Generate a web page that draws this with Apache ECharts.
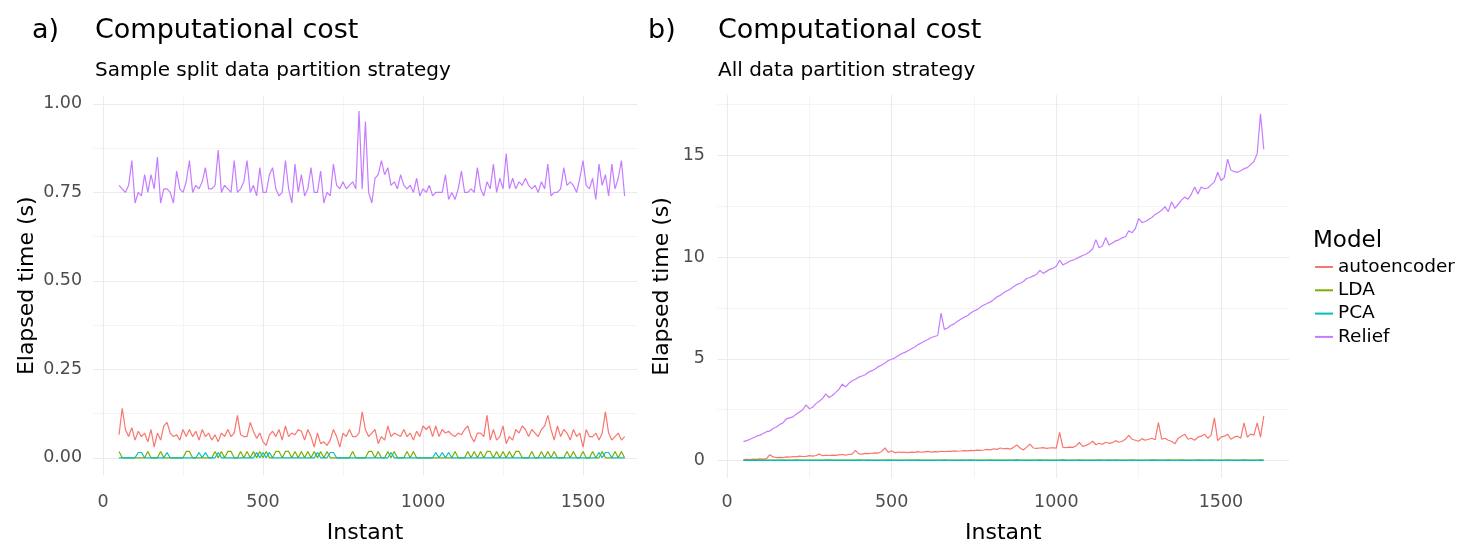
<!DOCTYPE html>
<html><head><meta charset="utf-8">
<script src="https://cdn.jsdelivr.net/npm/echarts@6/dist/echarts.min.js"></script>
<style>html,body{margin:0;padding:0;background:#fff}#c{width:1468px;height:549px}</style>
</head><body><div id="c"></div>
<script>
// ---------- DATA ----------
const instants = [
50,60,70,80,90,100,110,120,130,140,
150,160,170,180,190,200,210,220,230,240,
250,260,270,280,290,300,310,320,330,340,
350,360,370,380,390,400,410,420,430,440,
450,460,470,480,490,500,510,520,530,540,
550,560,570,580,590,600,610,620,630,640,
650,660,670,680,690,700,710,720,730,740,
750,760,770,780,790,800,810,820,830,840,
850,860,870,880,890,900,910,920,930,940,
950,960,970,980,990,1000,1010,1020,1030,1040,
1050,1060,1070,1080,1090,1100,1110,1120,1130,1140,
1150,1160,1170,1180,1190,1200,1210,1220,1230,1240,
1250,1260,1270,1280,1290,1300,1310,1320,1330,1340,
1350,1360,1370,1380,1390,1400,1410,1420,1430,1440,
1450,1460,1470,1480,1490,1500,1510,1520,1530,1540,
1550,1560,1570,1580,1590,1600,1610,1620,1630];

const modelNames = ['autoencoder','LDA','PCA','Relief'];

// Panel a) Sample split data partition strategy
const reliefA = [
0.77,0.76,0.75,0.77,0.84,0.72,0.75,0.74,0.80,0.75,
0.80,0.76,0.85,0.72,0.76,0.76,0.75,0.72,0.81,0.76,
0.75,0.78,0.84,0.75,0.77,0.76,0.78,0.82,0.76,0.76,
0.77,0.87,0.75,0.77,0.76,0.75,0.84,0.75,0.76,0.78,
0.84,0.75,0.77,0.74,0.82,0.75,0.75,0.80,0.82,0.76,
0.74,0.75,0.84,0.76,0.72,0.83,0.75,0.80,0.74,0.76,
0.82,0.75,0.75,0.81,0.72,0.75,0.74,0.83,0.77,0.76,
0.78,0.76,0.77,0.78,0.76,0.98,0.76,0.95,0.75,0.72,
0.79,0.80,0.84,0.80,0.82,0.77,0.78,0.76,0.80,0.77,
0.76,0.77,0.75,0.79,0.74,0.76,0.75,0.77,0.74,0.75,
0.75,0.75,0.80,0.73,0.75,0.73,0.76,0.81,0.75,0.75,
0.76,0.75,0.82,0.76,0.74,0.78,0.76,0.83,0.75,0.79,
0.76,0.86,0.76,0.79,0.76,0.78,0.77,0.79,0.77,0.76,
0.77,0.75,0.78,0.76,0.83,0.74,0.75,0.75,0.76,0.82,
0.77,0.78,0.77,0.75,0.79,0.84,0.77,0.76,0.79,0.73,
0.83,0.77,0.80,0.74,0.83,0.76,0.79,0.84,0.74];

const autoencoderA = [
0.065,0.14,0.08,0.06,0.085,0.05,0.075,0.06,0.07,0.045,
0.08,0.03,0.07,0.05,0.09,0.10,0.07,0.06,0.065,0.05,
0.08,0.06,0.08,0.06,0.075,0.05,0.08,0.06,0.07,0.05,
0.065,0.045,0.07,0.06,0.08,0.06,0.07,0.12,0.065,0.06,
0.06,0.10,0.075,0.055,0.07,0.045,0.035,0.065,0.075,0.06,
0.08,0.05,0.09,0.06,0.07,0.065,0.08,0.075,0.05,0.08,
0.06,0.03,0.07,0.04,0.045,0.035,0.05,0.08,0.06,0.03,
0.07,0.06,0.08,0.06,0.06,0.07,0.13,0.08,0.06,0.07,
0.08,0.04,0.06,0.05,0.09,0.06,0.07,0.065,0.06,0.08,
0.06,0.07,0.05,0.075,0.06,0.09,0.08,0.09,0.06,0.09,
0.06,0.08,0.07,0.075,0.065,0.06,0.07,0.065,0.08,0.09,
0.06,0.045,0.07,0.07,0.06,0.12,0.05,0.08,0.05,0.06,
0.09,0.04,0.06,0.05,0.08,0.07,0.09,0.08,0.06,0.08,
0.07,0.06,0.08,0.09,0.12,0.08,0.05,0.09,0.06,0.08,
0.07,0.05,0.08,0.06,0.07,0.03,0.08,0.06,0.06,0.07,
0.05,0.07,0.13,0.07,0.05,0.06,0.07,0.05,0.06];

const ldaA = [
0.018,0,0,0,0,0,0,0,0,0.018,
0,0,0,0.018,0,0,0,0,0,0,
0,0.018,0.018,0,0,0,0,0,0,0,
0.018,0,0.018,0,0.018,0.018,0,0,0.018,0,
0.018,0,0.018,0,0.018,0,0.018,0,0,0.018,
0.018,0,0.018,0.018,0,0.018,0,0.018,0,0.018,
0,0.018,0,0.018,0,0.018,0,0,0,0,
0,0,0,0.018,0,0,0,0,0.018,0.018,
0,0.018,0,0,0.018,0,0.018,0,0,0,
0.018,0,0.018,0,0,0,0,0,0,0,
0,0,0,0,0,0.018,0,0,0,0.018,
0,0.018,0,0.018,0,0.018,0.018,0,0.018,0,
0.018,0,0.018,0,0.018,0.018,0,0,0,0.018,
0,0,0.018,0,0.018,0,0.018,0,0,0,
0.018,0,0.018,0,0,0.018,0,0,0.018,0,
0,0.018,0,0,0,0.018,0,0.018,0];

const pcaA = [
0,0,0,0,0,0,0.015,0.015,0,0,
0,0,0,0,0,0.015,0,0,0,0,
0,0,0,0,0,0.015,0,0.015,0,0,
0,0.015,0,0,0,0,0,0,0,0,
0,0,0,0.015,0,0.015,0,0.015,0,0,
0,0,0,0,0,0,0,0,0,0,
0,0,0.015,0,0,0,0.015,0.015,0,0,
0,0,0,0,0,0,0,0,0,0,
0,0,0,0,0,0.015,0,0,0,0,
0,0,0,0,0,0,0,0,0,0.015,
0,0.015,0,0.015,0,0,0,0,0,0,
0,0,0,0,0,0,0,0,0,0,
0,0,0,0,0,0,0,0,0,0,
0,0,0,0,0,0,0,0,0,0,
0,0,0,0,0,0,0,0,0,0,
0.015,0,0.015,0.015,0,0,0,0,0];

// Panel b) All data partition strategy
const reliefB = [
0.93,0.98,1.05,1.12,1.20,1.25,1.33,1.42,1.45,1.58,
1.65,1.78,1.85,2.05,2.10,2.15,2.28,2.39,2.50,2.74,
2.55,2.62,2.80,2.92,3.05,3.28,3.10,3.20,3.35,3.50,
3.76,3.62,3.80,3.92,4.00,4.10,4.16,4.22,4.35,4.42,
4.50,4.62,4.70,4.80,4.92,4.98,5.05,5.15,5.25,5.32,
5.40,5.50,5.58,5.70,5.78,5.88,5.95,6.05,6.10,6.15,
7.25,6.45,6.52,6.65,6.72,6.85,6.95,7.05,7.12,7.25,
7.35,7.42,7.55,7.65,7.72,7.80,7.92,8.05,8.12,8.25,
8.35,8.42,8.55,8.65,8.72,8.80,8.95,9.00,9.08,9.15,
9.35,9.20,9.30,9.40,9.45,9.55,9.85,9.62,9.70,9.80,
9.85,9.92,10.00,10.08,10.14,10.25,10.40,10.86,10.46,10.55,
10.96,10.60,10.70,10.80,10.85,10.95,11.00,11.30,11.20,11.40,
11.90,11.70,11.75,11.85,11.95,12.10,12.20,12.30,12.48,12.24,
12.72,12.40,12.60,12.80,12.95,12.85,13.10,13.45,13.10,13.45,
13.36,13.40,13.55,13.70,14.17,13.77,13.90,14.82,14.28,14.20,
14.17,14.25,14.35,14.40,14.55,14.70,15.10,17.05,15.30];

const autoencoderB = [
0.05,0.06,0.05,0.07,0.06,0.08,0.07,0.10,0.29,0.18,
0.15,0.16,0.15,0.18,0.17,0.20,0.18,0.22,0.20,0.21,
0.24,0.22,0.25,0.32,0.24,0.26,0.25,0.27,0.26,0.28,
0.30,0.27,0.30,0.32,0.50,0.33,0.32,0.35,0.34,0.36,
0.38,0.37,0.45,0.62,0.40,0.48,0.38,0.42,0.40,0.41,
0.39,0.42,0.40,0.44,0.41,0.43,0.45,0.42,0.44,0.43,
0.46,0.44,0.46,0.45,0.48,0.46,0.47,0.49,0.48,0.50,
0.49,0.51,0.50,0.52,0.55,0.53,0.58,0.55,0.62,0.58,
0.60,0.56,0.65,0.77,0.62,0.52,0.66,0.81,0.62,0.60,
0.62,0.64,0.60,0.62,0.63,0.61,1.39,0.65,0.64,0.66,
0.65,0.72,0.89,0.70,0.75,0.82,0.95,0.78,0.85,0.80,
0.90,0.85,0.88,0.98,0.90,0.95,1.05,1.24,1.05,1.00,
0.95,1.08,1.00,1.05,1.10,1.02,1.87,1.05,1.10,1.00,
0.95,0.82,1.10,1.20,1.30,1.05,1.10,1.00,1.15,1.20,
1.30,1.10,1.25,2.10,0.98,1.15,1.20,1.30,1.05,1.15,
1.20,1.10,1.85,1.15,1.30,1.25,1.85,1.15,2.20];

const ldaB = [
0.02,0.03,0.02,0.02,0.04,0.02,0.02,0.03,0.02,0.02,
0.03,0.02,0.02,0.02,0.03,0.02,0.04,0.02,0.02,0.03,
0.02,0.02,0.03,0.02,0.02,0.02,0.04,0.02,0.03,0.02,
0.02,0.03,0.02,0.02,0.02,0.04,0.02,0.02,0.03,0.02,
0.02,0.02,0.03,0.02,0.04,0.02,0.02,0.02,0.03,0.02,
0.03,0.02,0.02,0.04,0.02,0.02,0.03,0.02,0.02,0.02,
0.02,0.04,0.02,0.03,0.02,0.02,0.02,0.03,0.02,0.04,
0.02,0.02,0.03,0.02,0.02,0.04,0.02,0.02,0.03,0.02,
0.02,0.03,0.02,0.04,0.02,0.02,0.03,0.02,0.02,0.02,
0.04,0.02,0.02,0.03,0.02,0.02,0.02,0.04,0.02,0.03,
0.02,0.02,0.04,0.02,0.03,0.02,0.02,0.02,0.04,0.02,
0.03,0.02,0.02,0.04,0.02,0.02,0.03,0.02,0.04,0.02,
0.02,0.03,0.02,0.02,0.04,0.02,0.03,0.02,0.02,0.04,
0.02,0.02,0.03,0.04,0.02,0.02,0.03,0.02,0.04,0.02,
0.03,0.02,0.04,0.02,0.02,0.03,0.02,0.04,0.02,0.02,
0.03,0.02,0.04,0.02,0.03,0.02,0.02,0.04,0.02];

const pcaB = [
0.01,0.01,0.01,0.01,0.01,0.01,0.01,0.01,0.01,0.01,
0.01,0.01,0.02,0.01,0.01,0.01,0.01,0.01,0.01,0.01,
0.01,0.01,0.01,0.01,0.01,0.02,0.01,0.01,0.01,0.01,
0.01,0.01,0.01,0.01,0.01,0.01,0.01,0.01,0.02,0.01,
0.01,0.01,0.01,0.01,0.01,0.01,0.01,0.01,0.01,0.01,
0.01,0.02,0.01,0.01,0.01,0.01,0.01,0.01,0.01,0.01,
0.01,0.01,0.01,0.01,0.01,0.01,0.02,0.01,0.01,0.01,
0.01,0.01,0.01,0.01,0.01,0.01,0.01,0.01,0.01,0.01,
0.01,0.01,0.01,0.02,0.01,0.01,0.01,0.01,0.01,0.01,
0.01,0.01,0.01,0.01,0.01,0.01,0.01,0.02,0.01,0.01,
0.01,0.01,0.01,0.01,0.01,0.01,0.01,0.01,0.01,0.01,
0.01,0.02,0.01,0.01,0.01,0.01,0.01,0.01,0.01,0.01,
0.01,0.01,0.01,0.01,0.01,0.02,0.01,0.01,0.01,0.01,
0.01,0.01,0.01,0.01,0.01,0.01,0.01,0.01,0.01,0.02,
0.01,0.01,0.01,0.01,0.01,0.01,0.01,0.01,0.01,0.01,
0.01,0.01,0.02,0.01,0.01,0.01,0.01,0.01,0.01];

const panelA = [autoencoderA, ldaA, pcaA, reliefA];
const panelB = [autoencoderB, ldaB, pcaB, reliefB];

// ---------- STYLE ----------
const FONT = "'DejaVu Sans', sans-serif";
const COLORS = ['#F8766D', '#7CAE00', '#00BFC4', '#C77CFF'];
const GRID_MAJOR = '#EBEBEB';
const GRID_MINOR = '#F1F1F1';
const TICK_COLOR = '#4D4D4D';

function mainAxis(kind, gridIndex, min, max, step, nameGap, margin, fmt) {
  return {
    type: 'value', gridIndex, min, max, minInterval: step, maxInterval: step,
    name: kind === 'x' ? 'Instant' : 'Elapsed time (s)',
    nameLocation: 'middle', nameGap,
    nameTextStyle: { fontFamily: FONT, fontSize: 22, color: '#000' },
    axisLine: { show: false }, axisTick: { show: false },
    axisLabel: { fontFamily: FONT, fontSize: 17.5, color: TICK_COLOR, margin,
      showMinLabel: false, showMaxLabel: false, formatter: fmt },
    splitLine: { show: true, showMinLine: false, showMaxLine: false,
      lineStyle: { color: GRID_MAJOR, width: 1.1 } },
    z: 2
  };
}
function minorAxis(kind, gridIndex, min, max, step) {
  return {
    type: 'value', gridIndex, min, max, minInterval: step, maxInterval: step,
    position: kind === 'x' ? 'top' : 'right',
    axisLine: { show: false }, axisTick: { show: false }, axisLabel: { show: false },
    splitLine: { show: true, showMinLine: false, showMaxLine: false,
      lineStyle: { color: GRID_MINOR, width: 0.8 } },
    z: 1
  };
}

const xAxes = [
  mainAxis('x', 0, -31, 1669, 500, 47, 18, v => String(v)),
  minorAxis('x', 0, -31, 1669, 250),
  mainAxis('x', 1, -29, 1707, 500, 44, 15, v => String(v)),
  minorAxis('x', 1, -29, 1707, 250)
];
const yAxes = [
  mainAxis('y', 0, -0.0486, 1.021, 0.25, 55, 11, v => v.toFixed(2)),
  minorAxis('y', 0, -0.0486, 1.021, 0.125),
  mainAxis('y', 1, -0.856, 17.97, 5, 44.5, 12.5, v => String(v)),
  minorAxis('y', 1, -0.856, 17.97, 2.5)
];

const series = [];
[panelA, panelB].forEach((panel, p) => {
  panel.forEach((vals, k) => {
    series.push({
      name: modelNames[k], type: 'line',
      xAxisIndex: p * 2, yAxisIndex: p * 2,
      data: instants.map((x, i) => [x, vals[i]]),
      symbol: 'none', showSymbol: false,
      lineStyle: { color: COLORS[k], width: 1.2 },
      itemStyle: { color: COLORS[k] },
      animation: false, silent: true, z: 3 + k
    });
  });
});

const titleStyle = { fontFamily: FONT, fontSize: 27, fontWeight: 'normal', color: '#000' };
const subStyle = { fontFamily: FONT, fontSize: 20, fontWeight: 'normal', color: '#000' };

const option = {
  backgroundColor: '#fff',
  animation: false,
  title: [
    { text: 'a)', left: 32, top: 17, padding: 0, textStyle: titleStyle },
    { text: 'Computational cost', left: 95, top: 17, padding: 0, textStyle: titleStyle },
    { text: 'Sample split data partition strategy', left: 95, top: 61, padding: 0, textStyle: subStyle },
    { text: 'b)', left: 648, top: 17, padding: 0, textStyle: titleStyle },
    { text: 'Computational cost', left: 718, top: 17, padding: 0, textStyle: titleStyle },
    { text: 'All data partition strategy', left: 718, top: 61, padding: 0, textStyle: subStyle },
    { text: 'Model', left: 1313, top: 230, padding: 0,
      textStyle: { fontFamily: FONT, fontSize: 23, fontWeight: 'normal', color: '#000' } }
  ],
  legend: {
    data: modelNames, orient: 'vertical', left: 1315, top: 255.5, padding: 0,
    icon: 'rect', itemWidth: 18, itemHeight: 2, itemGap: 0.3,
    textStyle: { fontFamily: FONT, fontSize: 18.5, color: '#000', lineHeight: 23 },
    selectedMode: false
  },
  grid: [
    { left: 93.1, top: 96.5, width: 544, height: 384 },
    { left: 717.45, top: 95, width: 571.7, height: 388.8 }
  ],
  xAxis: xAxes,
  yAxis: yAxes,
  series
};

const chart = echarts.init(document.getElementById('c'), null, { renderer: 'canvas' });
chart.setOption(option);
</script>
</body></html>
